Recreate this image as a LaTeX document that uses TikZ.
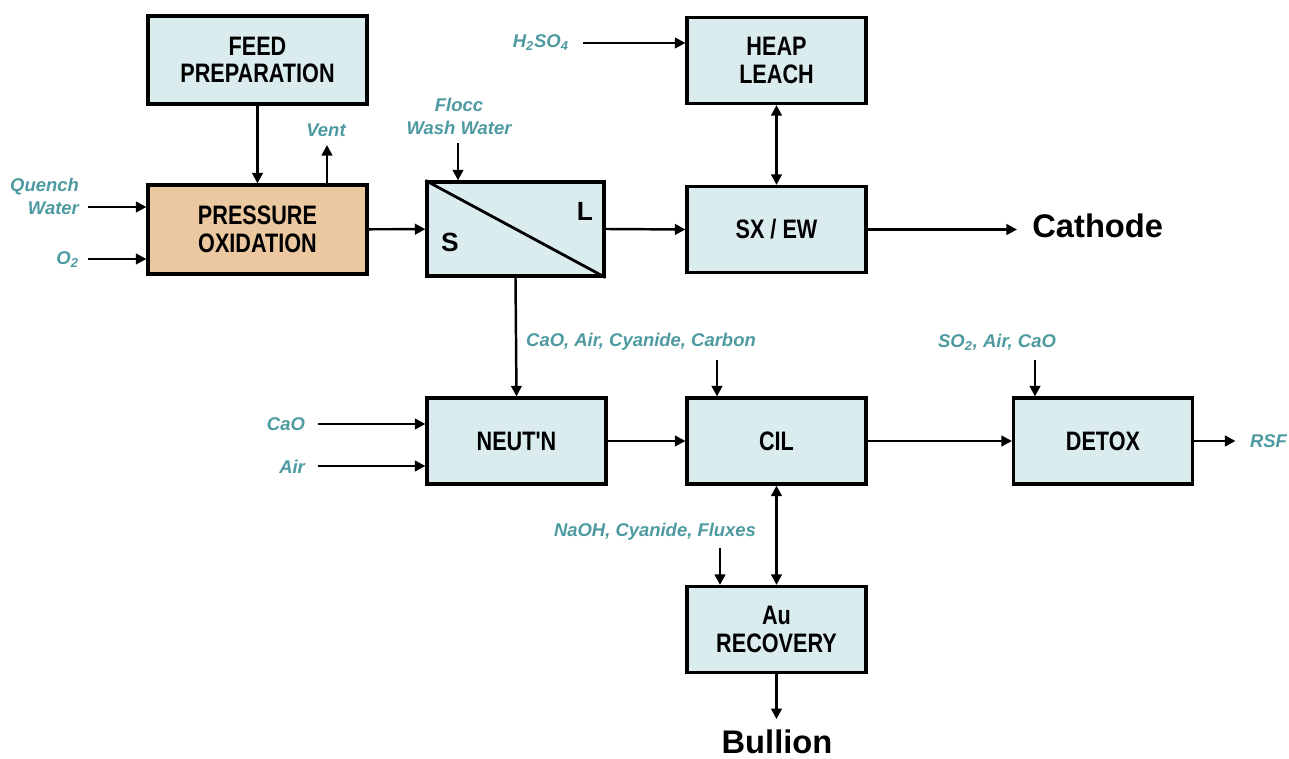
\documentclass[tikz,border=0pt]{standalone}
\usepackage{fontspec}
\setmainfont{Liberation Sans}
\newfontfamily\unitfont[FakeStretch=0.81]{Liberation Sans}
\usetikzlibrary{arrows.meta}

\definecolor{unitblue}{HTML}{DAECEE}
\definecolor{poxtan}{HTML}{EBC8A0}
\definecolor{streamteal}{HTML}{4D9AA0}

\tikzset{
  unit/.style={draw, line width=1.8pt, fill=unitblue, minimum width=3.58cm, minimum height=1.72cm,
    align=center, font=\unitfont\bfseries\fontsize{15.2}{15.8}\selectfont},
  stream/.style={text=streamteal, font=\bfseries\itshape\fontsize{10.5}{13}\selectfont, inner sep=1pt},
  product/.style={font=\bfseries\fontsize{18.6}{20}\selectfont, inner sep=0pt},
  flow/.style={->, line width=1.4pt},
}

\begin{document}
\begin{tikzpicture}[x=0.02cm, y=-0.02cm, >={Triangle[length=6pt,width=6pt]}]
  \useasboundingbox (0,0) rectangle (1289,759);

  % Process units
  \node[unit, minimum width=4.38cm, minimum height=1.76cm] (feed) at (257.5,60) {FEED\\PREPARATION};
  \node[unit, fill=poxtan, minimum width=4.38cm, minimum height=1.78cm] (pox) at (257.5,229.5) {PRESSURE\\OXIDATION};
  \node[unit, minimum width=3.54cm, minimum height=1.88cm] (sep) at (515.5,229) {};
  \node[unit] (heap) at (776.5,60.5) {HEAP\\LEACH};
  \node[unit] (sxew) at (776.5,229.5) {SX / EW};
  \node[unit] (neut) at (516.5,441) {NEUT'N};
  \node[unit] (cil) at (776.5,441) {CIL};
  \node[unit] (detox) at (1103,441) {DETOX};
  \node[unit] (aurec) at (776.5,629.5) {Au\\RECOVERY};

  % Thickener split
  \draw[line width=1.6pt] (sep.north west) -- (sep.south east);
  \node[font=\bfseries\fontsize{15}{15}\selectfont] (liq) at (585,211) {L};
  \node[font=\bfseries\fontsize{15}{15}\selectfont] (sol) at (450,242) {S};

  % Reagents and products
  \node[stream, align=right, anchor=east] (quench) at (81,196) {Quench\\Water};
  \node[stream, anchor=east] (otwo) at (81,260) {O\textsubscript{2}};
  \node[stream] (vent) at (326,130) {Vent};
  \node[stream, align=center] (flocc) at (459,116) {Flocc\\Wash Water};
  \node[stream, anchor=east] (acid) at (571,43) {H\textsubscript{2}SO\textsubscript{4}};
  \node[stream] (cilchem) at (641,342) {CaO, Air, Cyanide, Carbon};
  \node[stream, anchor=east] (cao) at (307,424) {CaO};
  \node[stream, anchor=east] (air) at (307,467) {Air};
  \node[stream] (detchem) at (997,342) {SO\textsubscript{2}, Air, CaO};
  \node[stream, anchor=west] (rsf) at (1248,441) {RSF};
  \node[stream] (aurchem) at (655,532) {NaOH, Cyanide, Fluxes};
  \node[product, anchor=west] (cathode) at (1032,226) {Cathode};
  \node[product] (bullion) at (777,741.5) {Bullion};

  \coordinate (qin) at (88,207);
  \coordinate (oin) at (88,259);
  \coordinate (vout) at (327,145);
  \coordinate (floccin) at (458,143);
  \coordinate (acidin) at (583,43);
  \coordinate (cilin) at (717,360);
  \coordinate (caoin) at (318,424);
  \coordinate (airin) at (318,466);
  \coordinate (detin) at (1035,360);
  \coordinate (aurin) at (720,548);

  % Main flows
  \draw[flow] (feed) -- (pox);
  \draw[flow] (pox) -- (sep);
  \draw[flow] (sep.east) -- (sxew.west);
  \draw[<->, line width=1.4pt] (heap) -- (sxew);
  \draw[flow, shorten >=0.3cm] (sxew.east) -- (cathode.west |- sxew.east);
  \draw[flow] (sep.south) -- (neut.north);
  \draw[flow] (neut) -- (cil);
  \draw[flow] (cil) -- (detox);
  \draw[flow, shorten >=0.25cm] (detox.east) -- (rsf.west);
  \draw[<->, line width=1.4pt] (cil) -- (aurec);
  \draw[flow, shorten >=0.2cm] (aurec.south) -- (aurec.south |- bullion.north);

  % Reagent feeds
  \draw[flow] (qin) -- (qin -| pox.west);
  \draw[flow] (oin) -- (oin -| pox.west);
  \draw[flow] (vout |- pox.north) -- (vout);
  \draw[flow] (floccin) -- (floccin |- sep.north);
  \draw[flow] (acidin) -- (acidin -| heap.west);
  \draw[flow] (cilin) -- (cilin |- cil.north);
  \draw[flow] (caoin) -- (caoin -| neut.west);
  \draw[flow] (airin) -- (airin -| neut.west);
  \draw[flow] (detin) -- (detin |- detox.north);
  \draw[flow] (aurin) -- (aurin |- aurec.north);
\end{tikzpicture}
\end{document}
